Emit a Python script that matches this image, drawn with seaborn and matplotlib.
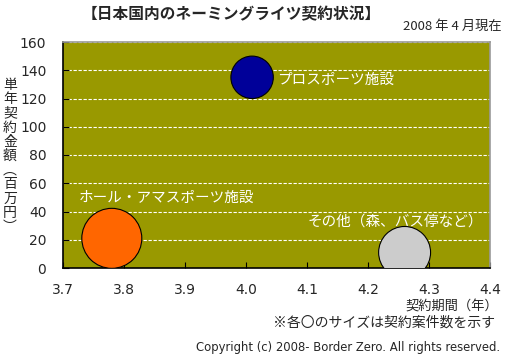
import pandas as pd
import seaborn as sns
import matplotlib.pyplot as plt

# データ
categories = ['ホール・アマスポーツ施設', 'プロスポーツ施設', 'その他（森、バス停など）']
period_years = [3.78, 4.01, 4.26]      # 契約期間（年）
amount_million = [21, 135, 11]         # 単年契約金額（百万円）
deal_counts = [24, 12, 18]             # 契約案件数（バブルサイズ）
colors = ['#FF6600', '#000099', '#CCCCCC']

x_ticks = [3.7, 3.8, 3.9, 4.0, 4.1, 4.2, 4.3, 4.4]
y_ticks = [0, 20, 40, 60, 80, 100, 120, 140, 160]

df = pd.DataFrame({'category': categories, 'period': period_years,
                   'amount': amount_million, 'count': deal_counts})

sns.set_style('ticks')
plt.rcParams['font.family'] = ['Noto Sans CJK JP', 'DejaVu Sans']

fig = plt.figure(figsize=(5.18, 3.6), dpi=100)
ax = fig.add_axes([63 / 518, 1 - 268 / 360, 427 / 518, 226 / 360])
ax.set_facecolor('#999900')

sns.scatterplot(data=df, x='period', y='amount', hue='category',
                palette=dict(zip(categories, colors)),
                size='count', sizes=(0, 1866), size_norm=(0, 24),
                edgecolor='black', linewidth=0.8, legend=False, ax=ax, zorder=3)

ax.set_xlim(3.7, 4.4)
ax.set_ylim(0, 160)
ax.set_xticks(x_ticks)
ax.set_xticklabels([f'{t:.1f}' for t in x_ticks], family=['DejaVu Sans'])
ax.set_yticks(y_ticks)
ax.set_yticklabels([str(t) for t in y_ticks], family=['DejaVu Sans'])
ax.yaxis.grid(True, color='white', linestyle=(0, (3, 1.5)), linewidth=0.8)
ax.xaxis.grid(False)
ax.tick_params(direction='in', length=4, labelsize=10, color='black')
ax.tick_params(axis='x', pad=11)
ax.tick_params(axis='y', pad=12)
ax.set_xlabel('')
ax.set_ylabel('')

for side in ['left', 'bottom']:
    ax.spines[side].set_color('black')
    ax.spines[side].set_linewidth(1.2)
for side in ['top', 'right']:
    ax.spines[side].set_visible(True)
    ax.spines[side].set_color('#999999')
    ax.spines[side].set_linewidth(1.2)

# バブルのラベル
ax.text(4.051, 133, 'プロスポーツ施設', color='white', fontsize=10.5, ha='left', va='center')
ax.text(3.726, 49.6, 'ホール・アマスポーツ施設', color='white', fontsize=10.5, ha='left', va='center')
ax.text(4.389, 32.6, 'その他（森、バス停など）', color='white', fontsize=10.5, ha='right', va='center')

# タイトル・注記
fig.text(231 / 518, 1 - 14 / 360, '【日本国内のネーミングライツ契約状況】',
         fontsize=11.3, fontweight='bold', ha='center', va='center')
fig.text(502 / 518, 1 - 26 / 360, '2008 年 4 月現在', fontsize=9.5, ha='right', va='center')
fig.text(10 / 518, 1 - 156 / 360, '\n'.join('単年契約金額︵百万円︶'),
         fontsize=10, ha='center', va='center', linespacing=1.02)
fig.text(498 / 518, 1 - 307 / 360, '契約期間（年）', fontsize=9.5, ha='right', va='center')
fig.text(495 / 518, 1 - 323 / 360, '※各〇のサイズは契約案件数を示す', fontsize=10, ha='right', va='center')
fig.text(500 / 518, 1 - 347 / 360, 'Copyright (c) 2008- Border Zero. All rights reserved.',
         fontsize=8.4, ha='right', va='center', family=['DejaVu Sans'])

plt.savefig('out.png', dpi=100)
plt.close()
